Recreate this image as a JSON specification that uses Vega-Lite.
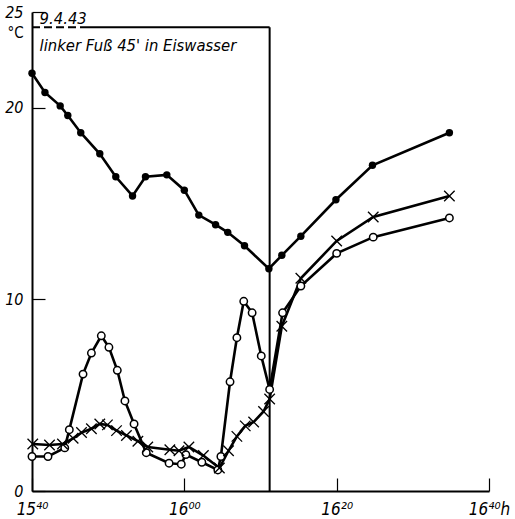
{
  "$schema": "https://vega.github.io/schema/vega-lite/v6.json",
  "width": 457,
  "height": 479,
  "autosize": "none",
  "padding": {"left": 32, "top": 12, "right": 26, "bottom": 28},
  "background": "white",
  "config": {
    "view": {"stroke": null},
    "font": "DejaVu Sans Condensed",
    "axis": {"grid": false, "domainColor": "black", "domainWidth": 2, "tickColor": "black", "tickWidth": 1.2, "labelColor": "black", "labelFont": "DejaVu Sans Condensed", "labelFontStyle": "italic", "labelFontSize": 16, "titleColor": "black"}
  },
  "datasets": {
    "temps": [
      {"series": "dots", "t": 0, "temp": 21.8}, {"series": "dots", "t": 1.7, "temp": 20.8}, {"series": "dots", "t": 3.7, "temp": 20.1}, {"series": "dots", "t": 4.7, "temp": 19.6}, {"series": "dots", "t": 6.4, "temp": 18.7}, {"series": "dots", "t": 8.9, "temp": 17.6}, {"series": "dots", "t": 11.0, "temp": 16.4}, {"series": "dots", "t": 13.2, "temp": 15.4}, {"series": "dots", "t": 14.9, "temp": 16.4}, {"series": "dots", "t": 17.7, "temp": 16.5}, {"series": "dots", "t": 20.0, "temp": 15.7}, {"series": "dots", "t": 21.9, "temp": 14.4}, {"series": "dots", "t": 24.1, "temp": 13.9}, {"series": "dots", "t": 25.7, "temp": 13.5}, {"series": "dots", "t": 27.9, "temp": 12.8}, {"series": "dots", "t": 31.1, "temp": 11.6}, {"series": "dots", "t": 32.8, "temp": 12.3}, {"series": "dots", "t": 35.3, "temp": 13.3}, {"series": "dots", "t": 39.9, "temp": 15.2}, {"series": "dots", "t": 44.7, "temp": 17.0}, {"series": "dots", "t": 54.8, "temp": 18.7},
      {"series": "circles", "t": 0, "temp": 1.8}, {"series": "circles", "t": 2.1, "temp": 1.8}, {"series": "circles", "t": 4.3, "temp": 2.25}, {"series": "circles", "t": 4.9, "temp": 3.2}, {"series": "circles", "t": 6.7, "temp": 6.1}, {"series": "circles", "t": 7.8, "temp": 7.2}, {"series": "circles", "t": 9.1, "temp": 8.1}, {"series": "circles", "t": 10.1, "temp": 7.5}, {"series": "circles", "t": 11.2, "temp": 6.3}, {"series": "circles", "t": 12.2, "temp": 4.7}, {"series": "circles", "t": 13.4, "temp": 3.5}, {"series": "circles", "t": 15.0, "temp": 2.0}, {"series": "circles", "t": 18.0, "temp": 1.45}, {"series": "circles", "t": 19.6, "temp": 1.4}, {"series": "circles", "t": 20.2, "temp": 1.9}, {"series": "circles", "t": 22.3, "temp": 1.5}, {"series": "circles", "t": 24.4, "temp": 1.1}, {"series": "circles", "t": 24.8, "temp": 1.8}, {"series": "circles", "t": 26.0, "temp": 5.7}, {"series": "circles", "t": 26.9, "temp": 8.0}, {"series": "circles", "t": 27.8, "temp": 9.9}, {"series": "circles", "t": 28.9, "temp": 9.3}, {"series": "circles", "t": 30.1, "temp": 7.05}, {"series": "circles", "t": 31.2, "temp": 5.3}, {"series": "circles", "t": 32.9, "temp": 9.3}, {"series": "circles", "t": 35.3, "temp": 10.7}, {"series": "circles", "t": 40.0, "temp": 12.4}, {"series": "circles", "t": 44.8, "temp": 13.25}, {"series": "circles", "t": 54.8, "temp": 14.25},
      {"series": "crosses", "t": 0.1, "temp": 2.45}, {"series": "crosses", "t": 2.3, "temp": 2.4}, {"series": "crosses", "t": 4.0, "temp": 2.45}, {"series": "crosses", "t": 5.4, "temp": 2.75}, {"series": "crosses", "t": 6.5, "temp": 3.05}, {"series": "crosses", "t": 7.8, "temp": 3.25}, {"series": "crosses", "t": 8.9, "temp": 3.5}, {"series": "crosses", "t": 9.9, "temp": 3.45}, {"series": "crosses", "t": 11.1, "temp": 3.15}, {"series": "crosses", "t": 12.4, "temp": 2.9}, {"series": "crosses", "t": 13.9, "temp": 2.6}, {"series": "crosses", "t": 15.2, "temp": 2.3}, {"series": "crosses", "t": 18.1, "temp": 2.15}, {"series": "crosses", "t": 19.3, "temp": 2.1}, {"series": "crosses", "t": 20.6, "temp": 2.3}, {"series": "crosses", "t": 22.5, "temp": 1.85}, {"series": "crosses", "t": 24.6, "temp": 1.2}, {"series": "crosses", "t": 25.8, "temp": 2.1}, {"series": "crosses", "t": 26.9, "temp": 2.85}, {"series": "crosses", "t": 28.0, "temp": 3.4}, {"series": "crosses", "t": 29.1, "temp": 3.6}, {"series": "crosses", "t": 30.4, "temp": 4.15}, {"series": "crosses", "t": 31.2, "temp": 4.8}, {"series": "crosses", "t": 32.8, "temp": 8.6}, {"series": "crosses", "t": 35.3, "temp": 11.1}, {"series": "crosses", "t": 40.0, "temp": 13.05}, {"series": "crosses", "t": 44.8, "temp": 14.3}, {"series": "crosses", "t": 54.8, "temp": 15.4}
    ]
  },
  "layer": [
    {
      "data": {"values": [
        {"x1": 31.2, "x2": 31.2, "y1": 0, "y2": 24.2, "kind": "solid"},
        {"x1": 6.3, "x2": 31.2, "y1": 24.2, "y2": 24.2, "kind": "solid"},
        {"x1": 0, "x2": 6.3, "y1": 24.2, "y2": 24.2, "kind": "dashed"}
      ]},
      "mark": {"type": "rule", "color": "black", "strokeWidth": 2},
      "encoding": {
        "x": {"field": "x1", "type": "quantitative", "scale": {"domain": [0, 60], "nice": false}},
        "x2": {"field": "x2"},
        "y": {"field": "y1", "type": "quantitative", "scale": {"domain": [0, 25], "nice": false}},
        "y2": {"field": "y2"},
        "strokeDash": {"field": "kind", "type": "nominal", "scale": {"domain": ["solid", "dashed"], "range": [[1, 0], [8, 4]]}, "legend": null}
      }
    },
    {
      "data": {"name": "temps"},
      "mark": {"type": "line", "color": "black", "strokeWidth": 2.6},
      "encoding": {
        "x": {"field": "t", "type": "quantitative", "scale": {"domain": [0, 60], "nice": false},
          "axis": {"values": [0, 20, 40, 60], "title": null, "tickSize": -13, "labelPadding": 23, "labelFontSize": 17, "labelFlush": false, "labelExpr": "datum.value == 0 ? '15⁴⁰' : datum.value == 20 ? '16⁰⁰' : datum.value == 40 ? '16²⁰' : '16⁴⁰h'"}},
        "y": {"field": "temp", "type": "quantitative", "scale": {"domain": [0, 25], "nice": false},
          "axis": {"values": [0, 10, 20, 25], "title": "°C", "titleAngle": 0, "titleX": -17, "titleY": 20, "titleAlign": "center", "titleBaseline": "middle", "titleFont": "DejaVu Sans Condensed", "titleFontSize": 15, "titleFontWeight": "normal", "tickSize": -13, "labelPadding": 22, "labelFlush": false, "labelBaseline": "middle"}},
        "detail": {"field": "series", "type": "nominal"}
      }
    },
    {
      "data": {"name": "temps"},
      "transform": [{"filter": "datum.series == 'dots'"}],
      "mark": {"type": "point", "shape": "circle", "filled": true, "color": "black", "size": 55, "opacity": 1},
      "encoding": {"x": {"field": "t", "type": "quantitative"}, "y": {"field": "temp", "type": "quantitative"}}
    },
    {
      "data": {"name": "temps"},
      "transform": [{"filter": "datum.series == 'circles'"}],
      "mark": {"type": "point", "shape": "circle", "filled": true, "fill": "white", "stroke": "black", "strokeWidth": 1.5, "size": 55, "opacity": 1},
      "encoding": {"x": {"field": "t", "type": "quantitative"}, "y": {"field": "temp", "type": "quantitative"}}
    },
    {
      "data": {"name": "temps"},
      "transform": [{"filter": "datum.series == 'crosses'"}],
      "mark": {"type": "point", "shape": "M-1,-1L1,1M-1,1L1,-1", "filled": false, "stroke": "black", "strokeWidth": 1.3, "size": 110, "opacity": 1},
      "encoding": {"x": {"field": "t", "type": "quantitative"}, "y": {"field": "temp", "type": "quantitative"}}
    },
    {
      "data": {"values": [
        {"t": 1.0, "temp": 24.65, "label": "9.4.43"},
        {"t": 1.0, "temp": 23.2, "label": "linker Fuß 45' in Eiswasser"}
      ]},
      "mark": {"type": "text", "align": "left", "baseline": "middle", "font": "DejaVu Sans Condensed", "fontStyle": "italic", "fontSize": 16.5, "color": "black"},
      "encoding": {"x": {"field": "t", "type": "quantitative"}, "y": {"field": "temp", "type": "quantitative"}, "text": {"field": "label"}}
    }
  ]
}
